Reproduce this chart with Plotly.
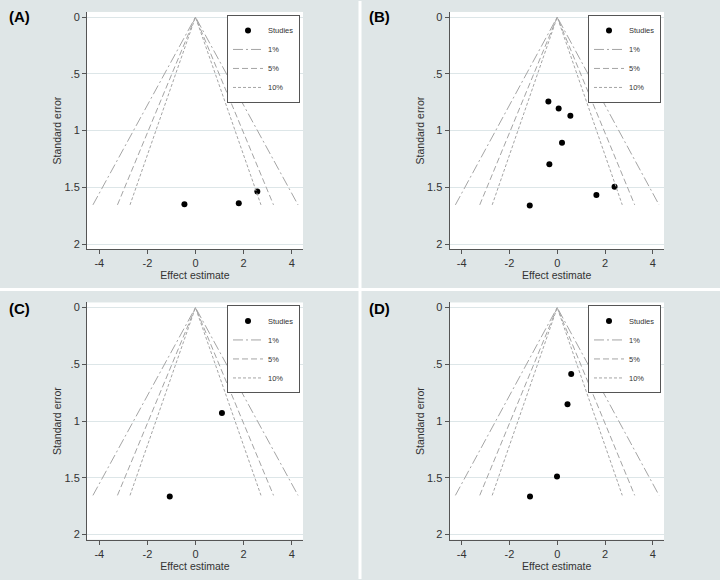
import plotly.graph_objects as go

# ---- data ----
panel_labels = ["(A)", "(B)", "(C)", "(D)"]

a_effect = [-0.46, 1.80, 2.57]
a_se = [1.65, 1.64, 1.537]

b_effect = [-0.37, 0.06, 0.55, 0.20, -0.33, 2.40, 1.64, -1.15]
b_se = [0.744, 0.805, 0.87, 1.107, 1.297, 1.496, 1.567, 1.66]

c_effect = [1.10, -1.07]
c_se = [0.93, 1.665]

d_effect = [0.585, 0.43, -0.01, -1.14]
d_se = [0.585, 0.853, 1.488, 1.665]

contour_names = ["1%", "5%", "10%"]
contour_z = [2.576, 1.960, 1.645]
se_max = [1.655, 1.655, 1.655, 1.655]

x_ticks = [-4, -2, 0, 2, 4]
x_ticktext = ["-4", "-2", "0", "2", "4"]
y_ticks = [0, 0.5, 1, 1.5, 2]
y_ticktext = ["0", ".5", "1", "1.5", "2"]

effects = [a_effect, b_effect, c_effect, d_effect]
ses = [a_se, b_se, c_se, d_se]

# ---- styling ----
W, H = 720, 580
BG = "#dfe6e7"
LINE_COL = "#a4a4a4"
dash_styles = ["10px,3px,2px,3px", "6px,3px", "3px,2px"]
FONT = "Liberation Sans, Arial, sans-serif"

# panel plot-area pixel boxes (left, right, top, bottom)
boxes = [
    (87, 303, 11, 249),
    (449.5, 664, 11, 249),
    (87, 303, 302.5, 540.5),
    (449.5, 664, 302.5, 540.5),
]
label_pos = [(7, 16), (367, 16), (7, 308.5), (367, 308.5)]

fig = go.Figure()

for i in range(4):
    ax = "" if i == 0 else str(i + 1)
    xref, yref = "x" + ax, "y" + ax
    leg = "legend" if i == 0 else "legend" + str(i + 1)
    fig.add_trace(go.Scatter(
        x=effects[i], y=ses[i], mode="markers", name="Studies",
        marker=dict(color="black", size=6),
        xaxis=xref, yaxis=yref, legend=leg, showlegend=True,
    ))
    for name, z, dsh in zip(contour_names, contour_z, dash_styles):
        s = se_max[i]
        fig.add_trace(go.Scatter(
            x=[-z * s, 0, z * s], y=[s, 0, s], mode="lines", name=name,
            line=dict(color=LINE_COL, width=1, dash=dsh),
            xaxis=xref, yaxis=yref, legend=leg, showlegend=True,
        ))

layout = dict(
    width=W, height=H,
    margin=dict(l=0, r=0, t=0, b=0),
    paper_bgcolor=BG, plot_bgcolor="white",
    font=dict(family=FONT, color="#333333", size=11),
    showlegend=True,
)

for i, (l, r, t, b) in enumerate(boxes):
    ax = "" if i == 0 else str(i + 1)
    layout["xaxis" + ax] = dict(
        domain=[l / W, r / W], anchor="y" + ax,
        range=[-4.51, 4.47], tickvals=x_ticks, ticktext=x_ticktext,
        ticks="outside", ticklen=4, tickcolor="#555", showgrid=False,
        zeroline=False, showline=True, linecolor="#555", linewidth=1,
        tickfont=dict(size=11, color="#333"),
        title=dict(text="Effect estimate", font=dict(size=10.5, color="#333"), standoff=0),
    )
    layout["yaxis" + ax] = dict(
        domain=[1 - b / H, 1 - t / H], anchor="x" + ax,
        range=[2.045, -0.045], tickvals=y_ticks, ticktext=y_ticktext,
        ticks="outside", ticklen=4, tickcolor="#555",
        showgrid=True, gridcolor="#dde6e8", gridwidth=1,
        zeroline=False, showline=True, linecolor="#555", linewidth=1,
        tickfont=dict(size=11, color="#333"),
        title=dict(text="Standard error", font=dict(size=10.5, color="#333"), standoff=0),
    )
    leg = "legend" if i == 0 else "legend" + str(i + 1)
    layout[leg] = dict(
        x=(r - 3) / W, y=1 - (t + 3) / H, xanchor="right", yanchor="top",
        bgcolor="white", bordercolor="#555", borderwidth=1,
        font=dict(size=7.5, color="#333"), itemwidth=30,
        tracegroupgap=0,
    )

fig.update_layout(**layout)

for (lx, ly), txt in zip(label_pos, panel_labels):
    fig.add_annotation(
        x=lx / W, y=1 - ly / H, xref="paper", yref="paper",
        text="<b>" + txt + "</b>", showarrow=False,
        xanchor="left", yanchor="middle",
        font=dict(size=15, color="black", family=FONT),
    )

# white separators between panels
fig.add_shape(type="line", xref="paper", yref="paper", x0=360 / W, x1=360 / W, y0=0, y1=1,
              line=dict(color="white", width=3))
fig.add_shape(type="line", xref="paper", yref="paper", x0=0, x1=1, y0=1 - 289.5 / H, y1=1 - 289.5 / H,
              line=dict(color="white", width=3))

fig.write_html(
    "out.html",
    config={"displayModeBar": False},
    post_script="document.body.style.margin='0';document.body.style.overflow='hidden';",
)
